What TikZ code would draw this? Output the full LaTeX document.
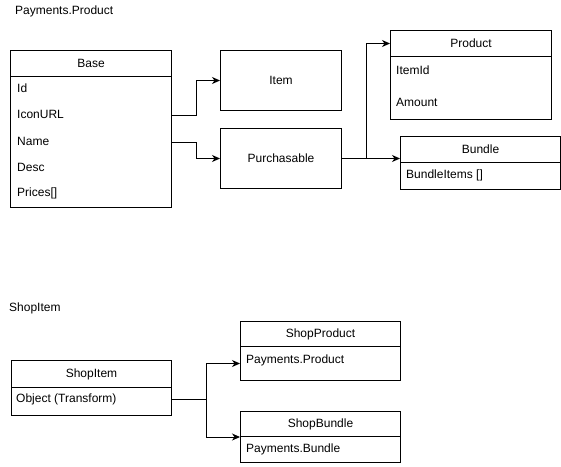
\documentclass[tikz,border=0pt]{standalone}
\usepackage{fontspec}
\setmainfont{Liberation Sans}
\usetikzlibrary{arrows.meta, positioning}
\tikzstyle{arrow} = [line width=1pt, -{Stealth[length=8pt, width=7pt, inset=2.5pt]}]

\begin{document}
\begin{tikzpicture}[x=1pt, y=-1pt, font=\fontsize{12}{14}\selectfont]
\tikzstyle{head} = [rectangle, draw=black, line width=1pt, anchor=north west, inner sep=0pt, text centered]
\tikzstyle{body} = [rectangle, draw=black, line width=1pt, anchor=north west, inner sep=0pt]
\tikzstyle{plain} = [rectangle, draw=black, line width=1pt, anchor=north west, minimum width=121pt, minimum height=60pt, inner sep=0pt, text centered]
\tikzstyle{field} = [anchor=west, inner sep=0pt, text height=9pt, text depth=3pt]

\useasboundingbox (0,0) rectangle (561,466);

% upper part
\node (title) [field] at (15,11) {Payments.Product};

\node (baseHead) [head, minimum width=161pt, minimum height=26pt] at (10,50) {Base};
\node (baseBody) [body, minimum width=161pt, minimum height=131pt] at (10,76) {};
\node (baseId) [field] at (17,89) {Id};
\node (baseIcon) [field] at (17,115) {IconURL};
\node (baseName) [field] at (17,142) {Name};
\node (baseDesc) [field] at (17,168) {Desc};
\node (basePrices) [field] at (17,193) {Prices[]};

\node (item) [plain] at (220,50) {Item};
\node (purch) [plain] at (220,128) {Purchasable};

\node (productHead) [head, minimum width=161pt, minimum height=26pt] at (390,30) {Product};
\node (productBody) [body, minimum width=161pt, minimum height=63pt] at (390,56) {};
\node (productItemId) [field] at (396,71) {ItemId};
\node (productAmount) [field] at (396,103) {Amount};

\node (bundleHead) [head, minimum width=160pt, minimum height=26pt] at (400,136) {Bundle};
\node (bundleBody) [body, minimum width=160pt, minimum height=27pt] at (400,162) {};
\node (bundleItems) [field] at (406,175) {BundleItems []};

\draw [arrow] (baseBody.east |- baseIcon) -- ++(24,0) |- (item);
\draw [arrow] (baseBody.east |- baseName) -- ++(24,0) |- (purch);
\draw [arrow] (purch.east) -- ++(24,0) |- (productHead.west);
\draw [arrow] (purch.east) -- (purch.east -| bundleHead.west);

% lower part
\node (shopTitle) [field] at (9,308) {ShopItem};

\node (shopHead) [head, minimum width=160pt, minimum height=27pt] at (11,360) {ShopItem};
\node (shopBody) [body, minimum width=160pt, minimum height=28pt] at (11,387) {};
\node (shopObject) [field] at (16,399) {Object (Transform)};

\node (shopProductHead) [head, minimum width=160pt, minimum height=25pt] at (240,321) {ShopProduct};
\node (shopProductBody) [body, minimum width=160pt, minimum height=34pt] at (240,346) {};
\node (shopProductField) [field] at (246,360) {Payments.Product};

\node (shopBundleHead) [head, minimum width=160pt, minimum height=25pt] at (240,411) {ShopBundle};
\node (shopBundleBody) [body, minimum width=160pt, minimum height=26pt] at (240,436) {};
\node (shopBundleField) [field] at (246,449) {Payments.Bundle};

\draw [arrow] (shopBody.east |- shopObject) -- ++(34,0) |- (shopProductBody.west);
\draw [arrow] (shopBody.east |- shopObject) -- ++(34,0) |- (shopBundleHead.south west);

\end{tikzpicture}
\end{document}
